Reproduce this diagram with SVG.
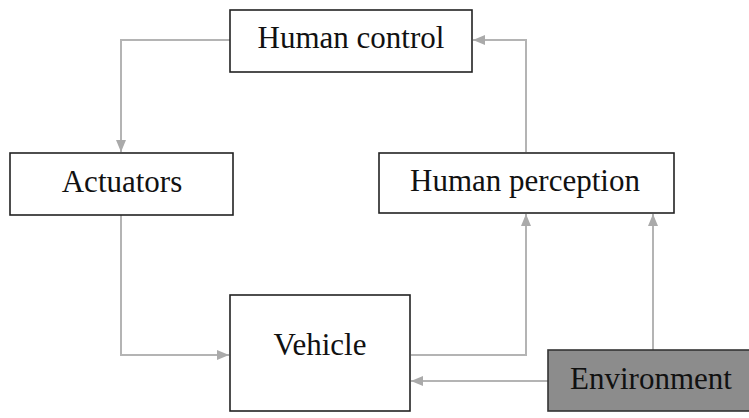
<svg xmlns="http://www.w3.org/2000/svg" width="749" height="418" viewBox="0 0 749 418">
<style>
.box{fill:#fff;stroke:#222;stroke-width:1.6}
.env{fill:#8c8c8c;stroke:#333;stroke-width:1.6}
.lbl{font-family:"Liberation Serif","Times New Roman",serif;font-size:31px;fill:#111;text-anchor:middle}
.c{fill:none;stroke:#b4b4b4;stroke-width:2}
</style>
<defs>
<marker id="ah" viewBox="0 0 12 10" refX="12" refY="5" markerWidth="12" markerHeight="10" markerUnits="userSpaceOnUse" orient="auto">
<path d="M0,0 L12,5 L0,10 Z" fill="#aaa"/>
</marker>
</defs>
<g id="connectors">
<path class="c" d="M230,40 H121 V152" marker-end="url(#ah)"/>
<path class="c" d="M121,215 V355 H229" marker-end="url(#ah)"/>
<path class="c" d="M411,355 H526 V214" marker-end="url(#ah)"/>
<path class="c" d="M653,350 V214" marker-end="url(#ah)"/>
<path class="c" d="M548,381 H411" marker-end="url(#ah)"/>
<path class="c" d="M526,152 V40 H473" marker-end="url(#ah)"/>
</g>
<g id="human-control">
<rect class="box" x="230" y="10" width="242" height="62"/>
<text class="lbl" x="351" y="48">Human control</text>
</g>
<g id="actuators">
<rect class="box" x="10" y="153" width="223" height="62"/>
<text class="lbl" x="122" y="192">Actuators</text>
</g>
<g id="human-perception">
<rect class="box" x="379" y="153" width="295" height="60"/>
<text class="lbl" x="525" y="191">Human perception</text>
</g>
<g id="vehicle">
<rect class="box" x="230" y="295" width="180" height="116"/>
<text class="lbl" x="320" y="355">Vehicle</text>
</g>
<g id="environment">
<rect class="env" x="548" y="350" width="205" height="61"/>
<text class="lbl" x="651" y="389">Environment</text>
</g>
</svg>
